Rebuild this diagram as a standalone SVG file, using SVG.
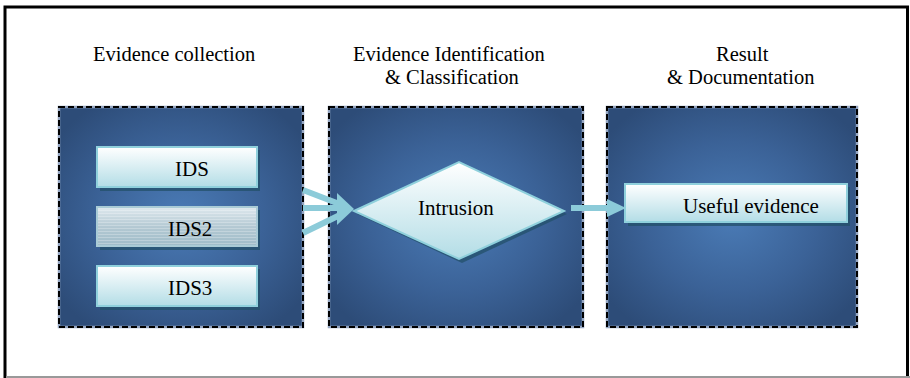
<svg xmlns="http://www.w3.org/2000/svg" width="910" height="378" viewBox="0 0 910 378">
  <defs>
    <radialGradient id="panelFill" cx="0.5" cy="0.5" r="0.62">
      <stop offset="0" stop-color="#4a7bb6"/>
      <stop offset="0.55" stop-color="#3b6297"/>
      <stop offset="1" stop-color="#2d4c78"/>
    </radialGradient>
    <linearGradient id="boxFill" x1="0" y1="0" x2="0" y2="1">
      <stop offset="0" stop-color="#ffffff"/>
      <stop offset="1" stop-color="#b3dde6"/>
    </linearGradient>
    <linearGradient id="stripeFill" x1="0" y1="0" x2="0" y2="1">
      <stop offset="0" stop-color="#dfe9ee"/>
      <stop offset="0.5" stop-color="#b4c9d3"/>
      <stop offset="1" stop-color="#9fbcc9"/>
    </linearGradient>
    <pattern id="stripes" width="4" height="3" patternUnits="userSpaceOnUse">
      <rect width="4" height="1" fill="#ffffff" opacity="0.25"/>
    </pattern>
  </defs>
  <style>
    .frame { fill: none; stroke: #000; stroke-width: 3; }
    .panel { fill: url(#panelFill); stroke: #95a6c2; stroke-width: 2.5; }
    .panel-dash { fill: none; stroke: #000; stroke-width: 2; stroke-dasharray: 6 3; }
    .box { fill: url(#boxFill); stroke: #8fd0dc; stroke-width: 2; }
    .shadow { fill: #23506a; opacity: 0.75; }
    text { font-family: 'Liberation Serif', 'Times New Roman', serif; fill: #000; }
    .head { font-size: 20.5px; }
    .label { font-size: 21px; }
    .conn { stroke: #8ccbd9; stroke-width: 6; fill: none; }
    .head-arrow { fill: #8ccbd9; }
  </style>

  <!-- outer frame -->
  <rect x="0" y="0" width="910" height="378" fill="#fff"/>
  <path class="frame" d="M5,378 V7 H907.5 V378"/>
  <line x1="6" y1="377" x2="910" y2="377" stroke="#999" stroke-width="2"/>

  <!-- column headings -->
  <text class="head" x="93" y="61">Evidence collection</text>
  <text class="head" x="353" y="61">Evidence Identification</text>
  <text class="head" x="385" y="84">&amp; Classification</text>
  <text class="head" x="716" y="61">Result</text>
  <text class="head" x="667" y="84">&amp; Documentation</text>

  <!-- stage panels -->
  <g id="panel-collection">
    <rect class="panel" x="59" y="107" width="244" height="220"/>
    <rect class="panel-dash" x="59" y="107" width="244" height="220"/>
  </g>
  <g id="panel-identification">
    <rect class="panel" x="329" y="107" width="254" height="220"/>
    <rect class="panel-dash" x="329" y="107" width="254" height="220"/>
  </g>
  <g id="panel-result">
    <rect class="panel" x="607" y="107" width="250" height="220"/>
    <rect class="panel-dash" x="607" y="107" width="250" height="220"/>
  </g>

  <!-- connectors -->
  <g id="connectors">
    <line class="conn" x1="303" y1="190" x2="342" y2="205"/>
    <line class="conn" x1="303" y1="208" x2="342" y2="208"/>
    <line class="conn" x1="303" y1="233" x2="342" y2="214"/>
    <polygon class="head-arrow" points="337,193 354,209 337,225"/>
    <line class="conn" x1="571" y1="208" x2="610" y2="208"/>
    <polygon class="head-arrow" points="607,199 626,208 607,217"/>
  </g>

  <!-- nodes -->
  <g id="node-ids">
    <rect class="shadow" x="100" y="150" width="160" height="41"/>
    <rect class="box" x="97" y="147" width="160" height="40"/>
    <text class="label" x="175" y="176">IDS</text>
  </g>
  <g id="node-ids2">
    <rect class="shadow" x="100" y="210" width="160" height="40"/>
    <rect x="97" y="207" width="160" height="39" fill="url(#stripeFill)" stroke="#a9cbd6" stroke-width="2"/>
    <rect x="98" y="208" width="158" height="37" fill="url(#stripes)"/>
    <text class="label" x="168" y="236">IDS2</text>
  </g>
  <g id="node-ids3">
    <rect class="shadow" x="100" y="269" width="160" height="41"/>
    <rect class="box" x="97" y="266" width="160" height="40"/>
    <text class="label" x="168" y="295">IDS3</text>
  </g>
  <g id="node-intrusion">
    <polygon class="shadow" points="357,214 462,166 567,214 462,263"/>
    <polygon class="box" points="354,211 459,162 564,211 459,259"/>
    <text class="label" x="418" y="215">Intrusion</text>
  </g>
  <g id="node-useful-evidence">
    <rect class="shadow" x="628" y="187" width="222" height="39"/>
    <rect class="box" x="625" y="184" width="222" height="38"/>
    <text class="label" x="683" y="213">Useful evidence</text>
  </g>
</svg>
